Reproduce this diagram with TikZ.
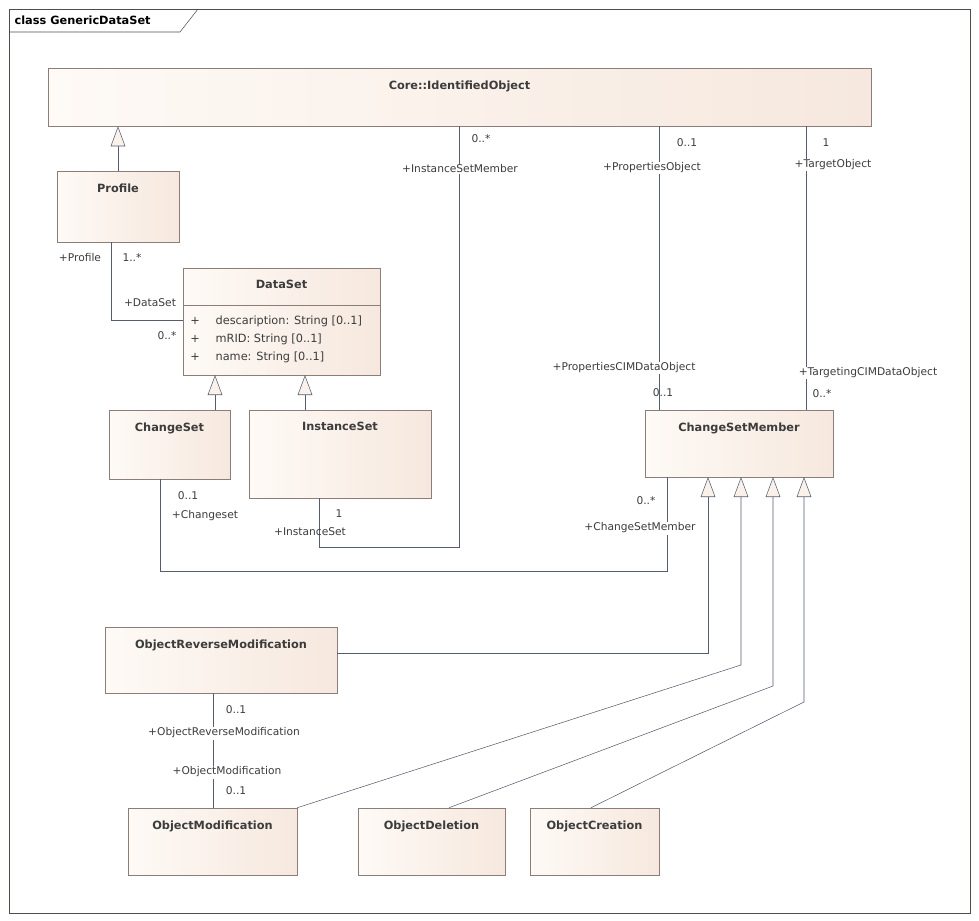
\documentclass[tikz,border=0pt]{standalone}
\usepackage{fontspec}
\setmainfont{DejaVu Sans}
\usetikzlibrary{arrows.meta,positioning}
\definecolor{lineclr}{RGB}{85,92,110}
\definecolor{boxclr}{RGB}{140,125,120}
\definecolor{fillL}{RGB}{254,250,246}
\definecolor{fillR}{RGB}{246,232,222}
\definecolor{txtclr}{RGB}{60,60,60}
\tikzset{
  cls/.style={draw=boxclr, left color=fillL, right color=fillR, inner sep=0pt},
  title/.style={anchor=north, yshift=-6pt, font=\fontsize{8.5}{10}\selectfont\bfseries, text=txtclr},
  lbl/.style={font=\fontsize{8}{9}\selectfont, text=txtclr, inner sep=1pt},
  assoc/.style={draw=lineclr},
  gen/.style={draw=lineclr, -{Triangle[open, length=15pt, width=11pt, fill=fillR!60]}}
}
\newcommand{\umlclass}[6]{%
  \node[cls, minimum width=#4*0.75pt, minimum height=#5*0.75pt] (#1) at (#2,#3) {};
  \node[title] at (#1.north) {#6};}
\begin{document}
\begin{tikzpicture}[x=0.75pt, y=-0.75pt]
  \useasboundingbox (0,0) rectangle (979,921);
  % frame
  \draw[boxclr!60!black] (9,9) rectangle (970,913);
  \draw[boxclr!60!black] (9,32) -- (180,32) -- (198,9);
  \node[lbl, anchor=west, font=\fontsize{8.5}{10}\selectfont\bfseries, text=black] at (13,20) {class GenericDataSet};

  % classes
  \umlclass{Core}{459.5}{97}{823}{58}{Core::IdentifiedObject}
  \node[title, yshift=-2pt] at (Core.north) {};
  \umlclass{Profile}{118}{206.5}{122}{71}{Profile}
  \umlclass{DataSet}{281.5}{321.5}{197}{107}{DataSet}
  \draw[boxclr] (183,305) -- (380,305);
  \foreach \y/\t in {321/{descaription: String [0..1]}, 339/{mRID: String [0..1]}, 357/{name: String [0..1]}} {
    \node[lbl, font=\fontsize{8.5}{10}\selectfont] at (195,\y) {+};
    \node[lbl, anchor=west, font=\fontsize{8.5}{10}\selectfont] at (214,\y) {\t};
  }
  \umlclass{ChangeSet}{169.5}{444.5}{121}{69}{ChangeSet}
  \umlclass{InstanceSet}{340}{454}{182}{88}{InstanceSet}
  \umlclass{CSM}{739}{443.5}{188}{67}{ChangeSetMember}
  \umlclass{ORM}{221}{660}{232}{66}{ObjectReverseModification}
  \umlclass{OM}{212.5}{841.5}{169}{67}{ObjectModification}
  \umlclass{OD}{431.5}{841.5}{147}{67}{ObjectDeletion}
  \umlclass{OC}{594.5}{841.5}{129}{67}{ObjectCreation}

  % generalisations
  \draw[gen] (Profile.north) -- (Profile.north |- Core.south);
  \draw[gen] (ChangeSet.north -| 215,0) -- (215,375);
  \draw[gen] (InstanceSet.north -| 305,0) -- (305,375);
  \draw[gen] (ORM.east |- 0,653) -- (708,653) -- (708,477);
  \draw[gen] (OM.north east) -- (741,665) -- (741,477);
  \draw[gen] (OD.north -| 449,0) -- (773,686) -- (773,477);
  \draw[gen] (OC.north -| 591,0) -- (804,702) -- (804,477);

  % associations
  \draw[assoc] (Profile.south -| 111,0) -- (111,320) -- (DataSet.west |- 0,320);
  \node[lbl] at (80,258) {+Profile};
  \node[lbl] at (132,258) {1..*};
  \node[lbl] at (150,303) {+DataSet};
  \node[lbl] at (167,336) {0..*};

  \draw[assoc] (Core.south -| 459,0) -- (459,547) -- (319,547) -- (InstanceSet.south -| 319,0);
  \node[lbl] at (481,139) {0..*};
  \node[lbl, fill=white] at (460,169) {+InstanceSetMember};
  \node[lbl] at (339,514) {1};
  \node[lbl] at (310,532) {+InstanceSet};

  \draw[assoc] (Core.south -| 659,0) -- (CSM.north -| 659,0);
  \node[lbl] at (687,143) {0..1};
  \node[lbl, fill=white] at (652,168) {+PropertiesObject};
  \node[lbl, fill=white] at (624,368) {+PropertiesCIMDataObject};
  \node[lbl] at (663,393) {0..1};

  \draw[assoc] (Core.south -| 806,0) -- (CSM.north -| 806,0);
  \node[lbl] at (826,143) {1};
  \node[lbl, fill=white] at (833,165) {+TargetObject};
  \node[lbl, fill=white] at (868,373) {+TargetingCIMDataObject};
  \node[lbl] at (822,394) {0..*};

  \draw[assoc] (ChangeSet.south -| 160,0) -- (160,571) -- (667,571) -- (CSM.south -| 667,0);
  \node[lbl] at (188,496) {0..1};
  \node[lbl, fill=white] at (205,516) {+Changeset};
  \node[lbl] at (646,501) {0..*};
  \node[lbl, fill=white] at (640,528) {+ChangeSetMember};

  \draw[assoc] (ORM.south -| 213,0) -- (OM.north -| 213,0);
  \node[lbl] at (236,710) {0..1};
  \node[lbl, fill=white] at (224,733) {+ObjectReverseModification};
  \node[lbl, fill=white] at (227,772) {+ObjectModification};
  \node[lbl] at (236,791) {0..1};
\end{tikzpicture}
\end{document}
